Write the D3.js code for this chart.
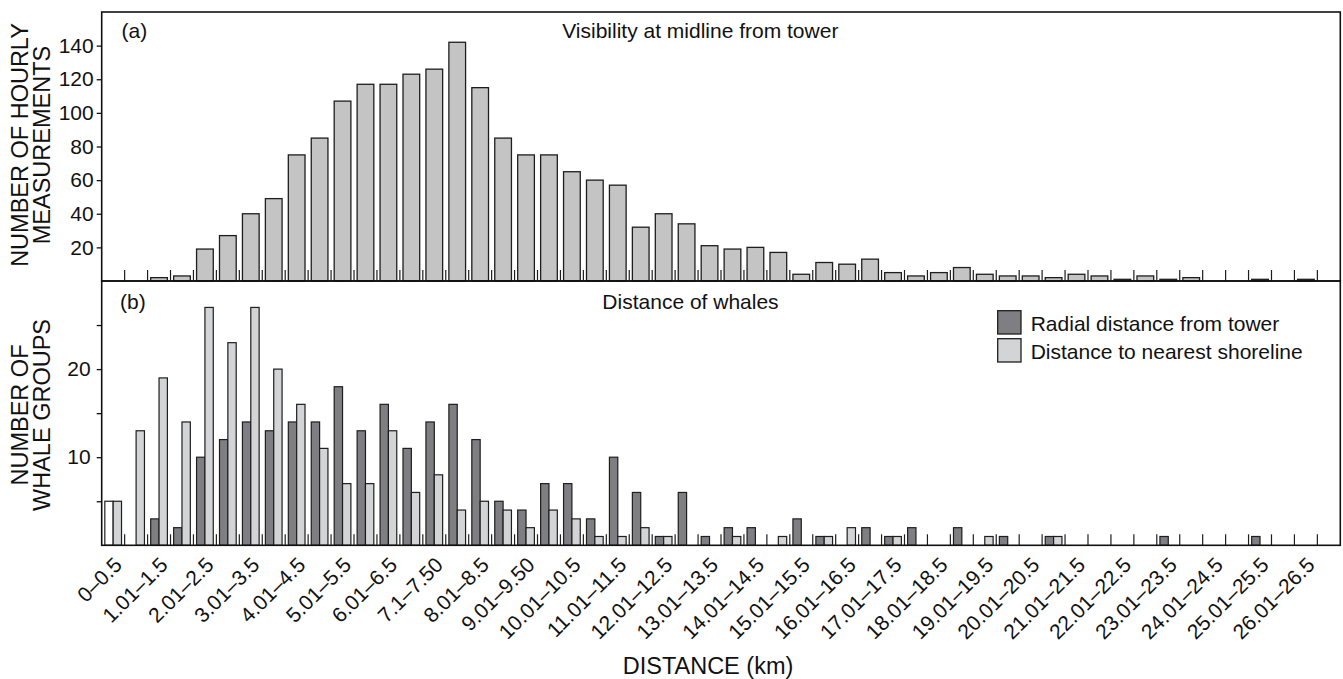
<!DOCTYPE html>
<html><head><meta charset="utf-8">
<script src="https://cdn.jsdelivr.net/npm/d3@7"></script>
<style>
html,body{margin:0;padding:0;background:#fff;}
text{font-family:"Liberation Sans",Arial,Helvetica,sans-serif;fill:#111;}
</style></head><body>
<svg id="chart" width="1343" height="679"></svg>
<script>
// ---------- DATA ----------
const categories = [
  "0–0.5","0.51–1","1.01–1.5","1.51–2","2.01–2.5","2.51–3","3.01–3.5","3.51–4",
  "4.01–4.5","4.51–5","5.01–5.5","5.51–6","6.01–6.5","6.51–7","7.1–7.50","7.51–8",
  "8.01–8.5","8.51–9","9.01–9.50","9.51–10","10.01–10.5","10.51–11","11.01–11.5","11.51–12",
  "12.01–12.5","12.51–13","13.01–13.5","13.51–14","14.01–14.5","14.51–15","15.01–15.5","15.51–16",
  "16.01–16.5","16.51–17","17.01–17.5","17.51–18","18.01–18.5","18.51–19","19.01–19.5","19.51–20",
  "20.01–20.5","20.51–21","21.01–21.5","21.51–22","22.01–22.5","22.51–23","23.01–23.5","23.51–24",
  "24.01–24.5","24.51–25","25.01–25.5","25.51–26","26.01–26.5","26.51–27"
];
const tickLabels = [
  "0–0.5","1.01–1.5","2.01–2.5","3.01–3.5","4.01–4.5","5.01–5.5","6.01–6.5","7.1–7.50",
  "8.01–8.5","9.01–9.50","10.01–10.5","11.01–11.5","12.01–12.5","13.01–13.5","14.01–14.5",
  "15.01–15.5","16.01–16.5","17.01–17.5","18.01–18.5","19.01–19.5","20.01–20.5","21.01–21.5",
  "22.01–22.5","23.01–23.5","24.01–24.5","25.01–25.5","26.01–26.5"
];
const visibility = [
  0,0,2,3,19,27,40,49,75,85,
  107,117,117,123,126,142,115,85,75,75,
  65,60,57,32,40,34,21,19,20,17,
  4,11,10,13,5,3,5,8,4,3,
  3,2,4,3,1,3,1,2,0,0,
  1,0,1,0
];
const radialDistance = [
  5,0,3,2,10,12,14,13,14,14,
  18,13,16,11,14,16,12,5,4,7,
  7,3,10,6,1,6,1,2,2,0,
  3,1,0,2,1,2,0,2,0,1,
  0,1,0,0,0,0,1,0,0,0,
  1,0,0,0
];
const shorelineDistance = [
  5,13,19,14,27,23,27,20,16,11,
  7,7,13,6,8,4,5,4,2,4,
  3,1,1,2,1,0,0,1,0,1,
  0,1,2,0,1,0,0,0,1,0,
  0,1,0,0,0,0,0,0,0,0,
  0,0,0,0
];
const topTicks = [20,40,60,80,100,120,140];
const bottomTicks = [5,10,15,20,25];
const bottomLabeledTicks = [10,20];
const seriesNames = ["Radial distance from tower","Distance to nearest shoreline"];

// ---------- LAYOUT ----------
const L = 101.7, R = 1340.3;
const topY0 = 12, topY1 = 281, botY0 = 281, botY1 = 545.3;
const C = { top:"#c4c4c4", dark:"#7f7f83", light:"#d3d4d6", stroke:"#1e1e1e" };

const svg = d3.select("#chart");

const x = d3.scaleBand().domain(categories).range([L, R])
  .paddingInner(0.272).paddingOuter(0.136);
const step = x.step();
const boundary = i => x(categories[i]) - x.paddingInner() * step / 2;

const yTop = d3.scaleLinear().domain([0, 160]).range([topY1, topY0]);
const yBot = d3.scaleLinear().domain([0, 30]).range([botY1, botY0]);

const rows = values => values.map((v, i) => ({ cat: categories[i], v, i })).filter(r => r.v > 0);

// ---------- TOP PANEL ----------
svg.append("g").selectAll("rect").data(rows(visibility)).join("rect")
  .attr("x", r => x(r.cat))
  .attr("width", x.bandwidth())
  .attr("y", r => yTop(r.v))
  .attr("height", r => yTop(0) - yTop(r.v))
  .attr("fill", C.top).attr("stroke", C.stroke).attr("stroke-width", 1.3);

// ---------- BOTTOM PANEL ----------
const half = x.bandwidth() / 2;
const gBot = svg.append("g");
gBot.append("g").selectAll("rect").data(rows(radialDistance)).join("rect")
  .attr("x", r => x(r.cat))
  .attr("width", half)
  .attr("y", r => yBot(r.v))
  .attr("height", r => yBot(0) - yBot(r.v))
  .attr("fill", r => r.i === 0 ? "#ffffff" : C.dark)
  .attr("stroke", C.stroke).attr("stroke-width", 1.2);
gBot.append("g").selectAll("rect").data(rows(shorelineDistance)).join("rect")
  .attr("x", r => x(r.cat) + half)
  .attr("width", half)
  .attr("y", r => yBot(r.v))
  .attr("height", r => yBot(0) - yBot(r.v))
  .attr("fill", C.light).attr("stroke", C.stroke).attr("stroke-width", 1.2);

// ---------- BIN BOUNDARY TICKS ----------
const bIdx = d3.range(1, categories.length);
[topY1, botY1].forEach(base => {
  svg.append("g").selectAll("line").data(bIdx).join("line")
    .attr("x1", i => boundary(i)).attr("x2", i => boundary(i))
    .attr("y1", base).attr("y2", base - 11)
    .attr("stroke", C.stroke).attr("stroke-width", 1.2);
});

// ---------- FRAMES ----------
svg.append("rect").attr("x", L).attr("y", topY0).attr("width", R - L).attr("height", topY1 - topY0)
  .attr("fill","none").attr("stroke","#111").attr("stroke-width",1.6);
svg.append("rect").attr("x", L).attr("y", botY0).attr("width", R - L).attr("height", botY1 - botY0)
  .attr("fill","none").attr("stroke","#111").attr("stroke-width",1.6);

// ---------- Y AXES ----------
const ayTop = svg.append("g").attr("transform", `translate(${L},0)`)
  .call(d3.axisLeft(yTop).tickValues(topTicks).tickSize(5).tickPadding(3));
const ayBot = svg.append("g").attr("transform", `translate(${L},0)`)
  .call(d3.axisLeft(yBot).tickValues(bottomTicks).tickSize(5).tickPadding(6)
    .tickFormat(d => bottomLabeledTicks.includes(d) ? String(d) : ""));
[ayTop, ayBot].forEach(g => {
  g.select(".domain").remove();
  g.selectAll(".tick line").attr("stroke","#111").attr("stroke-width",1.3);
  g.selectAll(".tick text").attr("font-size", 21)
    .attr("font-family","'Liberation Sans',Arial,sans-serif").attr("fill","#111");
});

// ---------- X AXIS LABELS ----------
const ax = svg.append("g").attr("transform", `translate(0,${botY1})`)
  .call(d3.axisBottom(x).tickValues(categories.filter(c => tickLabels.includes(c)))
    .tickSize(0).tickFormat(c => c));
ax.select(".domain").remove();
ax.selectAll(".tick text")
  .attr("font-size", 21).attr("font-family","'Liberation Sans',Arial,sans-serif").attr("fill","#111")
  .attr("text-anchor","end").attr("x",0).attr("y",0).attr("dy",0)
  .attr("transform","translate(10,21) rotate(-45)");

// ---------- TEXTS ----------
const T = (txt, xx, yy, size, anchor="start") => svg.append("text").text(txt)
  .attr("x", xx).attr("y", yy).attr("font-size", size).attr("text-anchor", anchor);
T("(a)", 121.5, 37.5, 21);
T("(b)", 120, 309, 21);
T("Visibility at midline from tower", 700.3, 38.3, 21, "middle");
T("Distance of whales", 690.5, 309.3, 21, "middle");
T("DISTANCE (km)", 708, 674, 23.5, "middle");

const yTitle = (lines, cy) => {
  lines.forEach((ln, k) => {
    svg.append("text").text(ln).attr("font-size", 23.5).attr("text-anchor","middle")
      .attr("transform", `translate(${27.7 + 22.3*k},${cy}) rotate(-90)`);
  });
};
yTitle(["NUMBER OF HOURLY","MEASUREMENTS"], 145);
yTitle(["NUMBER OF","WHALE GROUPS"], 415);

// ---------- LEGEND ----------
const lg = svg.append("g");
[C.dark, C.light].forEach((col, k) => {
  lg.append("rect").attr("x", 997.7).attr("y", 310.7 + 28*k).attr("width", 23.3).attr("height", 23.3)
    .attr("fill", col).attr("stroke", C.stroke).attr("stroke-width", 1.3);
  lg.append("text").text(seriesNames[k]).attr("x", 1030.7).attr("y", 331 + 28*k).attr("font-size", 21);
});
</script>
</body></html>
